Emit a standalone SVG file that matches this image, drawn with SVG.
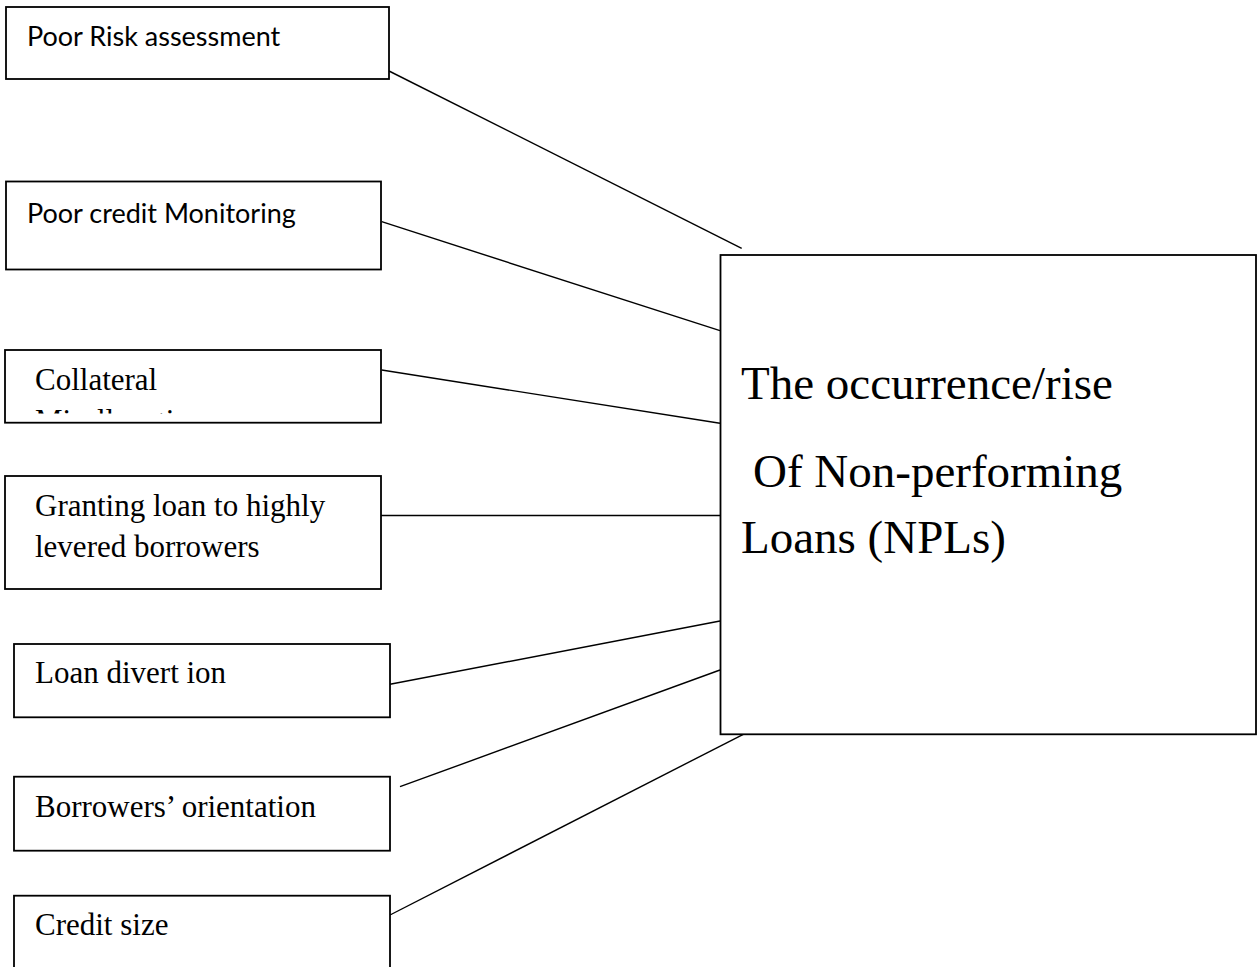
<svg xmlns="http://www.w3.org/2000/svg" width="1257" height="967" viewBox="0 0 1257 967">
<style>
.box{fill:#fff;stroke:#000;stroke-width:1.8}
.sans{font-family:Lato,"Liberation Sans",sans-serif;font-size:27px;fill:#000}
.serif{font-family:"Liberation Serif","Times New Roman",serif;font-size:31px;fill:#000}
.big{font-family:"Liberation Serif","Times New Roman",serif;font-size:47px;fill:#000}
.conn line{stroke:#000;stroke-width:1.4}
</style>
<defs>
<clipPath id="clipB3"><rect x="6" y="351" width="374" height="62.5"/></clipPath>
</defs>
<rect width="1257" height="967" fill="#fff"/>
<g id="connectors" class="conn">
<line x1="389" y1="71" x2="741.7" y2="248.3"/>
<line x1="381.7" y1="221.7" x2="720" y2="330.7"/>
<line x1="381.7" y1="370" x2="720" y2="423.3"/>
<line x1="381" y1="515.5" x2="720" y2="515.5"/>
<line x1="390" y1="684.3" x2="720" y2="621"/>
<line x1="400" y1="786.7" x2="720" y2="670"/>
<line x1="390" y1="915" x2="743.3" y2="734.3"/>
</g>
<g id="n1">
<rect class="box" x="6" y="7" width="383" height="72"/>
<text class="sans" x="27" y="46">Poor Risk assessment</text>
</g>
<g id="n2">
<rect class="box" x="6" y="181.5" width="375" height="88"/>
<text class="sans" x="27" y="223">Poor credit Monitoring</text>
</g>
<g id="n3">
<rect class="box" x="5" y="350" width="376" height="72.7"/>
<text class="serif" x="35" y="390">Collateral</text>
<text class="serif" x="35" y="431" clip-path="url(#clipB3)">Misallocation</text>
</g>
<g id="n4">
<rect class="box" x="5" y="476" width="376" height="113"/>
<text class="serif" x="35" y="515.5">Granting loan to highly</text>
<text class="serif" x="35" y="556.7">levered borrowers</text>
</g>
<g id="n5">
<rect class="box" x="14" y="644" width="376" height="73.3"/>
<text class="serif" x="35" y="683.3">Loan divert ion</text>
</g>
<g id="n6">
<rect class="box" x="14" y="776.7" width="376" height="74"/>
<text class="serif" x="35" y="817.3">Borrowers’ orientation</text>
</g>
<g id="n7">
<rect class="box" x="14" y="895.7" width="376" height="90"/>
<text class="serif" x="35" y="935">Credit size</text>
</g>
<g id="npl">
<rect class="box" x="720.5" y="255" width="535.5" height="479.3"/>
<text class="big" x="741" y="399">The occurrence/rise</text>
<text class="big" x="753" y="487">Of Non-performing</text>
<text class="big" x="741" y="553">Loans (NPLs)</text>
</g>
</svg>
